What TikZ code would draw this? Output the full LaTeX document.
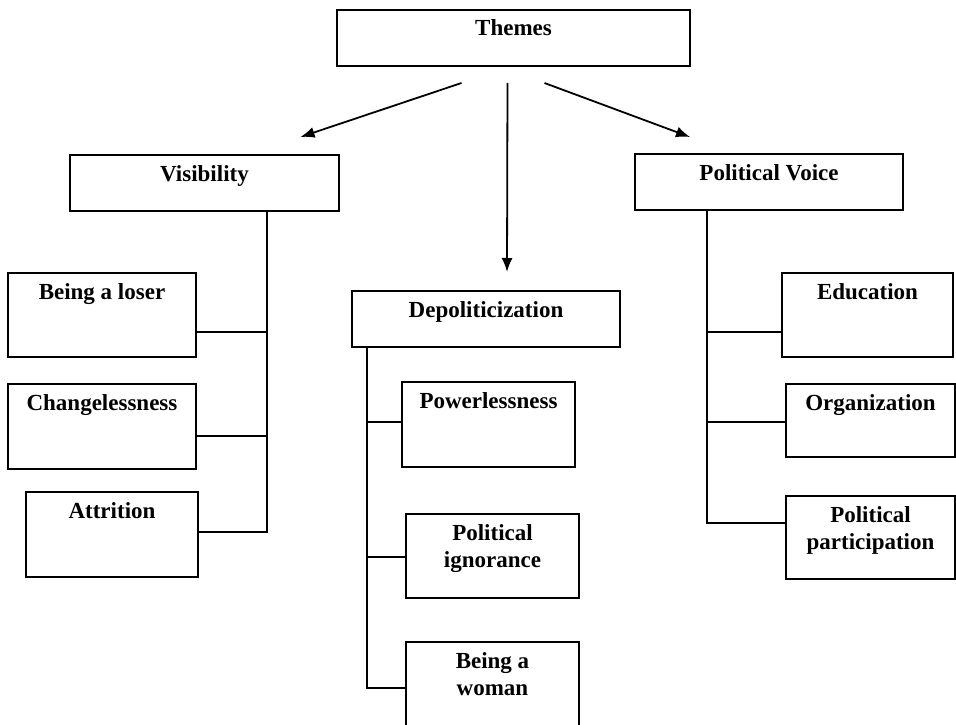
\documentclass[tikz,border=0pt]{standalone}
\usepackage{fontspec}
\setmainfont{Liberation Serif}
\usetikzlibrary{arrows.meta}

\begin{document}
\begin{tikzpicture}[x=1pt,y=-1pt,
  box/.style={draw, line width=2pt, inner sep=0pt, outer sep=0pt, anchor=north west,
    align=center, font=\fontsize{23}{27}\selectfont\bfseries, text height=26pt},
  twoline/.style={text height=53pt},
  link/.style={line width=2pt},
  arr/.style={line width=1.8pt, -{Latex[length=14pt,width=11pt]}}]

\useasboundingbox (0,0) rectangle (956,725); % Page

\node[box, minimum width=353pt, text depth=30pt] (themes) at (337,10) {Themes}; % Top box

\node[box, minimum width=269pt, text depth=30pt] (vis) at (70,155) {Visibility}; % Left branch
\node[box, minimum width=268pt, text depth=30pt] (dep) at (352,291) {Depoliticization}; % Middle branch
\node[box, minimum width=268pt, text depth=30pt] (pv) at (635,154) {Political Voice}; % Right branch

\node[box, minimum width=188pt, text depth=58pt] (loser) at (8,273) {Being a loser};
\node[box, minimum width=188pt, text depth=59pt] (change) at (8,384) {Changelessness};
\node[box, minimum width=172pt, text depth=59pt] (attr) at (26,492) {Attrition};

\node[box, minimum width=173pt, text depth=59pt] (power) at (402,382) {Powerlessness};
\node[box, twoline, minimum width=173pt, text depth=31pt] (ignor) at (406,514) {Political\\ignorance};
\node[box, twoline, minimum width=173pt, text depth=40pt] (woman) at (406,642) {Being a\\woman};

\node[box, minimum width=171pt, text depth=58pt] (edu) at (782,273) {Education};
\node[box, minimum width=169pt, text depth=47pt] (org) at (786,384) {Organization};
\node[box, twoline, minimum width=169pt, text depth=30pt] (part) at (786,496) {Political\\participation};

% Arrows from the top box
\draw[arr] ([xshift=-52pt,yshift=-17pt]themes.south) -- ([xshift=96pt,yshift=18pt]vis.north);
\draw[arr] ([xshift=-6pt,yshift=-17pt]themes.south) -- ([xshift=21pt,yshift=19pt]dep.north);
\draw[arr] ([xshift=31pt,yshift=-17pt]themes.south) -- ([xshift=-79pt,yshift=17pt]pv.north);

% Trunks
\coordinate (vt) at (267,0);
\coordinate (dt) at (367,0);
\coordinate (pt) at (707,0);

\draw[link] (vis.south -| vt) |- ([yshift=-40pt]attr.north east); % Visibility trunk
\draw[link] ([yshift=-59pt]loser.north east) coordinate (l1) -- (l1 -| vt);
\draw[link] ([yshift=-52pt]change.north east) coordinate (l2) -- (l2 -| vt);

\draw[link] (dep.south -| dt) |- ([yshift=-46pt]woman.north west); % Depoliticization trunk
\draw[link] ([yshift=-40pt]power.north west) coordinate (d1) -- (d1 -| dt);
\draw[link] ([yshift=-43pt]ignor.north west) coordinate (d2) -- (d2 -| dt);

\draw[link] (pv.south -| pt) |- ([yshift=-27pt]part.north west); % Political Voice trunk
\draw[link] ([yshift=-59pt]edu.north west) coordinate (p1) -- (p1 -| pt);
\draw[link] ([yshift=-38pt]org.north west) coordinate (p2) -- (p2 -| pt);

\end{tikzpicture}
\end{document}
